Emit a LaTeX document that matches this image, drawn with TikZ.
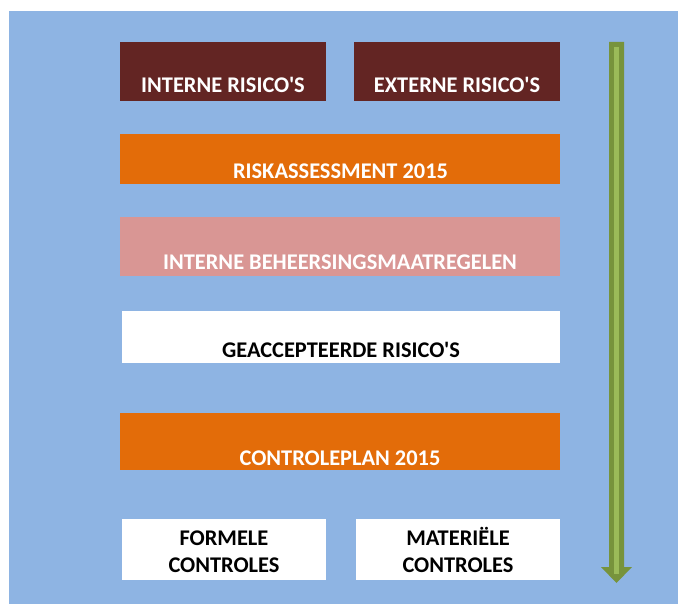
\documentclass[tikz,border=0pt]{standalone}
\usepackage{fontspec}
\setmainfont{Carlito}[Ligatures=TeXOff]
\definecolor{bgblue}{HTML}{8EB4E3}
\definecolor{maroon}{HTML}{632523}
\definecolor{orng}{HTML}{E36C09}
\definecolor{pinkish}{HTML}{D99694}
\definecolor{darkgreen}{HTML}{77933C}
\definecolor{lightgreen}{HTML}{9BBB59}
\begin{document}
\begin{tikzpicture}[x=1pt,y=-1pt,
  lbl/.style={anchor=base, inner sep=0pt, font=\bfseries\fontsize{22.4}{27}\selectfont, align=center}]
\useasboundingbox (0,0) rectangle (678,604);
\fill[white] (0,0) rectangle (678,604);
\fill[bgblue] (9,11) rectangle (678,604);
% boxes
\fill[maroon] (120,42) rectangle (326,101);
\fill[maroon] (354,42) rectangle (560,101);
\fill[orng] (120,134) rectangle (560,184);
\fill[pinkish] (120,217) rectangle (560,276);
\fill[white] (122,311) rectangle (560,363);
\fill[orng] (120,413) rectangle (560,470);
\fill[white] (122,519) rectangle (326,580);
\fill[white] (356,519) rectangle (560,580);
% labels
\node[lbl, text=white] (t1) at (223,93) {INTERNE RISICO'S};
\node[lbl, text=white] (t2) at (457,93) {EXTERNE RISICO'S};
\node[lbl, text=white] (t3) at (340.5,179) {RISKASSESSMENT 2015};
\node[lbl, text=white] (t4) at (340,270) {INTERNE BEHEERSINGSMAATREGELEN};
\node[lbl, text=black] (t5) at (341,357) {GEACCEPTEERDE RISICO'S};
\node[lbl, text=white] (t6) at (340,465) {CONTROLEPLAN 2015};
\node[lbl, text=black] (t7) at (224,572) {FORMELE\\CONTROLES};
\node[lbl, text=black] (t8) at (458,572) {MATERIËLE\\CONTROLES};
% arrow
\fill[darkgreen] (609,42) -- (624,42) -- (624,567) -- (632,567) -- (616.5,583) -- (601,567) -- (609,567) -- cycle;
\fill[lightgreen] (614,47) rectangle (619,574);
\end{tikzpicture}
\end{document}
